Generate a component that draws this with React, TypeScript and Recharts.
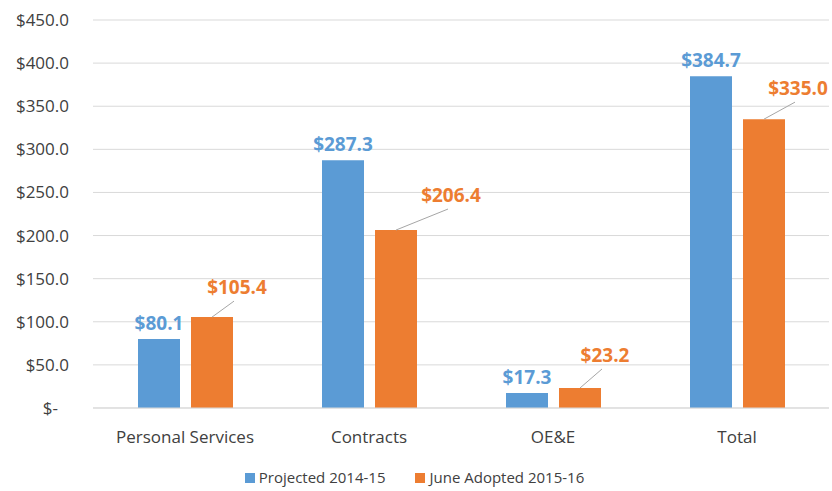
import React from "react"
import { BarChart, Bar, XAxis, YAxis, CartesianGrid, Legend, LabelList } from "recharts"

const categories = ["Personal Services", "Contracts", "OE&E", "Total"]
const projected = [80.1, 287.3, 17.3, 384.7]
const adopted = [105.4, 206.4, 23.2, 335.0]
const yTicks = [0, 50, 100, 150, 200, 250, 300, 350, 400, 450]
const seriesNames = ["Projected 2014-15", "June Adopted 2015-16"]

// where the orange callouts sit relative to the bar top (dx, dy)
const calloutOffsets = [
  [25, -30],
  [55, -35],
  [25, -33],
  [34, -31],
]

const data = categories.map((name, i) => ({
  name,
  projected: projected[i],
  adopted: adopted[i],
}))

const FONT = "'Open Sans', 'Noto Sans', sans-serif"
const BLUE = "#5b9bd5"
const ORANGE = "#ed7d31"
const TEXT = "#404040"

const money = (v: number) => `$${v.toFixed(1)}`

function YTick({ x, y, payload }: any) {
  const v = payload.value as number
  return (
    <text
      x={v === 0 ? x - 11 : x}
      y={y}
      dy={6}
      textAnchor="end"
      fontSize={17}
      fontFamily={FONT}
      fill={TEXT}
    >
      {v === 0 ? "$-" : money(v)}
    </text>
  )
}

function BlueLabel({ x, y, width, value }: any) {
  return (
    <text
      x={x + width / 2}
      y={y - 9}
      textAnchor="middle"
      fontSize={19}
      fontWeight="bold"
      fontFamily={FONT}
      fill={BLUE}
    >
      {money(value)}
    </text>
  )
}

function OrangeLabel({ x, y, width, value, index }: any) {
  const [dx, dy] = calloutOffsets[index]
  const cx = x + width / 2
  return (
    <g>
      <line x1={cx} y1={y} x2={cx + dx - 3} y2={y + dy + 14} stroke="#a6a6a6" strokeWidth={1} />
      <text
        x={cx + dx}
        y={y + dy + 7}
        textAnchor="middle"
        fontSize={19}
        fontWeight="bold"
        fontFamily={FONT}
        fill={ORANGE}
      >
        {money(value)}
      </text>
    </g>
  )
}

function LegendBox() {
  const colors = [BLUE, ORANGE]
  return (
    <div
      style={{
        height: 33,
        display: "flex",
        justifyContent: "center",
        alignItems: "flex-start",
        paddingTop: 12,
        boxSizing: "border-box",
        fontFamily: FONT,
        fontSize: 15,
        color: TEXT,
        lineHeight: "15px",
      }}
    >
      {seriesNames.map((n, i) => (
        <span key={n} style={{ display: "flex", alignItems: "center", marginLeft: i ? 30 : 0 }}>
          <span style={{ width: 10, height: 10, background: colors[i], marginRight: 4, display: "inline-block" }} />
          {n}
        </span>
      ))}
    </div>
  )
}

export default function App() {
  return (
    <div style={{ position: "absolute", left: 0, top: 0, background: "#fff" }}>
      <BarChart
        width={832}
        height={491}
        data={data}
        margin={{ top: 20, right: 3, left: 0, bottom: 0 }}
        barSize={42}
        barGap={11}
      >
        <CartesianGrid stroke="#d9d9d9" vertical={false} />
        <XAxis
          dataKey="name"
          tickLine={false}
          axisLine={{ stroke: "#d9d9d9" }}
          tick={{ fontSize: 17, fill: TEXT, fontFamily: FONT }}
          tickMargin={17}
          height={50}
        />
        <YAxis
          domain={[0, 450]}
          ticks={yTicks}
          width={93}
          axisLine={false}
          tickLine={false}
          tick={<YTick />}
          tickMargin={18}
        />
        <Legend verticalAlign="bottom" height={33} content={<LegendBox />} />
        <Bar dataKey="projected" name={seriesNames[0]} fill={BLUE} isAnimationActive={false}>
          <LabelList dataKey="projected" content={<BlueLabel />} />
        </Bar>
        <Bar dataKey="adopted" name={seriesNames[1]} fill={ORANGE} isAnimationActive={false}>
          <LabelList dataKey="adopted" content={<OrangeLabel />} />
        </Bar>
      </BarChart>
    </div>
  )
}
